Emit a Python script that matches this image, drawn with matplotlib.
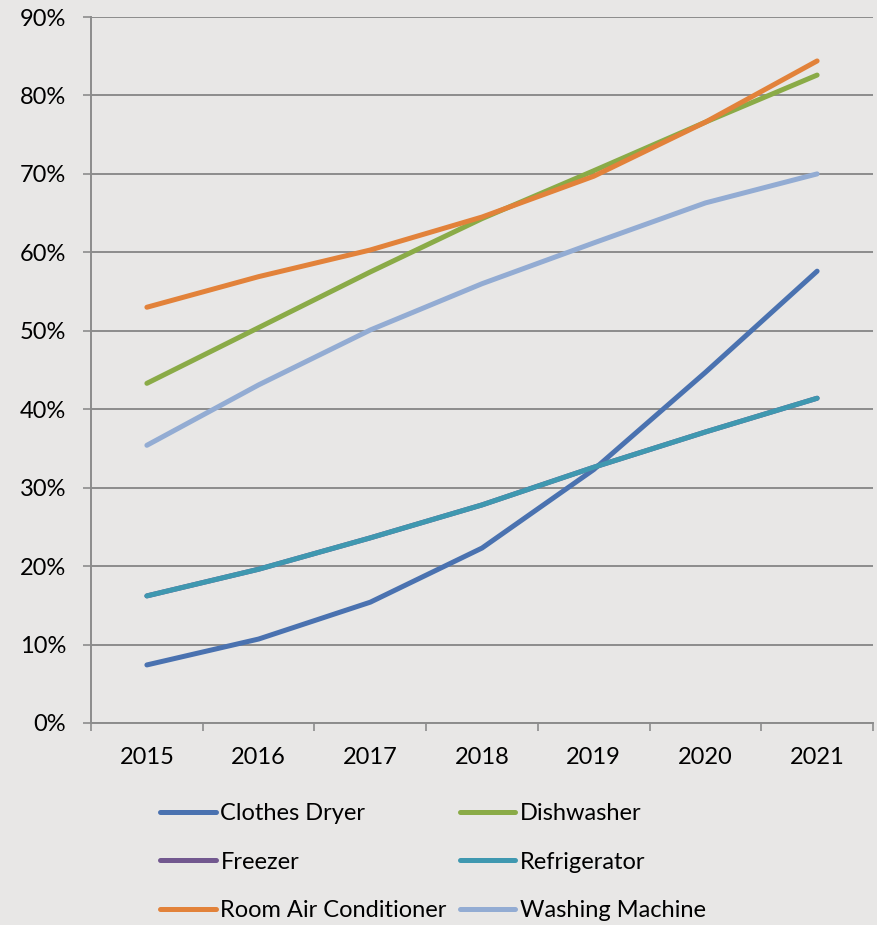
import matplotlib.pyplot as plt
import numpy as np

# data (share of households, %)
years = ['2015', '2016', '2017', '2018', '2019', '2020', '2021']
clothes_dryer = [7.4, 10.7, 15.4, 22.3, 32.3, 44.7, 57.6]
dishwasher = [43.3, 50.4, 57.5, 64.3, 70.4, 76.6, 82.6]
freezer = [16.2, 19.6, 23.6, 27.8, 32.6, 37.1, 41.4]
refrigerator = [16.2, 19.6, 23.6, 27.8, 32.6, 37.1, 41.4]
room_ac = [53.0, 56.9, 60.3, 64.5, 69.7, 76.6, 84.4]
washing_machine = [35.4, 43.1, 50.1, 56.0, 61.2, 66.3, 70.0]

bg = '#e8e7e6'
grid_c = '#8c8c8c'
plt.rcParams['font.family'] = ['Lato', 'DejaVu Sans']

fig = plt.figure(figsize=(8.77, 9.25), dpi=100, facecolor=bg)
ax = fig.add_axes([0.1038, 0.2184, 0.8916, 0.7632], facecolor=bg)

x = np.arange(len(years))
lw = 3.6
series = [
    ('Clothes Dryer', clothes_dryer, '#4a72b0'),
    ('Dishwasher', dishwasher, '#8aab47'),
    ('Freezer', freezer, '#72588f'),
    ('Refrigerator', refrigerator, '#3f98b0'),
    ('Room Air Conditioner', room_ac, '#e2823a'),
    ('Washing Machine', washing_machine, '#93acd3'),
]
handles = {}
for name, vals, col in series:
    h, = ax.plot(x, np.array(vals) / 100, color=col, lw=lw,
                 solid_capstyle='round', label=name)
    handles[name] = h

ax.set_xlim(-0.5, len(years) - 0.5)
ax.set_ylim(0, 0.9)
ax.set_yticks(np.arange(0, 0.91, 0.1))
ax.set_yticklabels(['%d%%' % v for v in range(0, 91, 10)])
ax.set_xticks(x)
ax.set_xticklabels(years)
ax.set_xticks(np.arange(-0.5, len(years)), minor=True)
ax.yaxis.grid(True, color=grid_c, lw=1.4)
ax.set_axisbelow(True)
ax.tick_params(axis='y', length=6, width=1.2, color=grid_c, pad=12, labelsize=17)
ax.tick_params(axis='x', which='major', length=0, pad=17, labelsize=17)
ax.tick_params(axis='x', which='minor', length=6, width=1.2, color=grid_c)
for s in ['top', 'right']:
    ax.spines[s].set_visible(False)
for s in ['left', 'bottom']:
    ax.spines[s].set_color(grid_c)
    ax.spines[s].set_linewidth(1.4)

order = ['Clothes Dryer', 'Freezer', 'Room Air Conditioner',
         'Dishwasher', 'Refrigerator', 'Washing Machine']
fig.legend([handles[n] for n in order], order, ncol=2, frameon=False,
           loc='upper left', bbox_to_anchor=(0.1585, 0.1546), fontsize=17,
           handlelength=2.35, handletextpad=0.2, columnspacing=0.55,
           labelspacing=1.16)

fig.savefig('out.png', dpi=100, facecolor=bg)
